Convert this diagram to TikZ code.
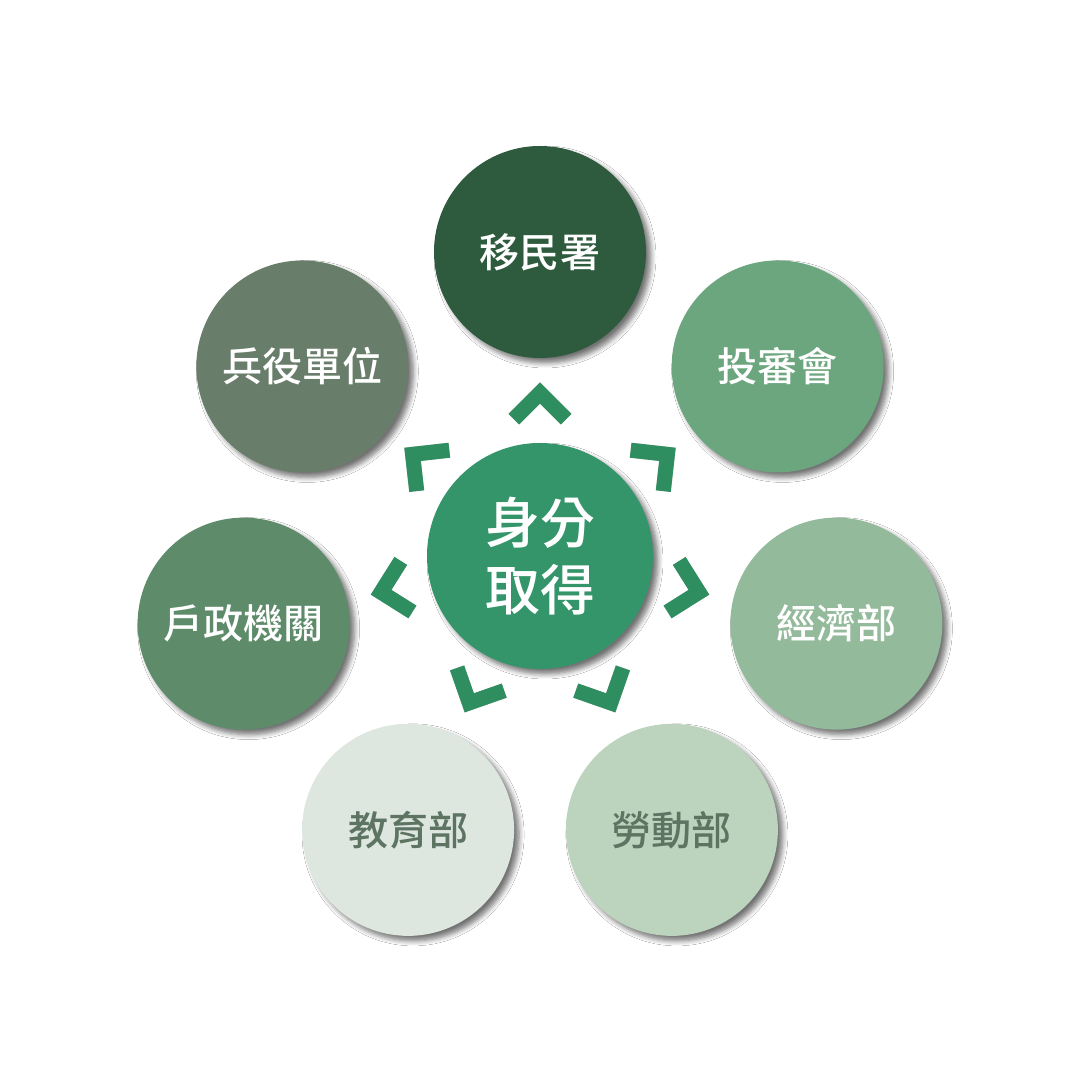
\documentclass[tikz,border=0pt]{standalone}
\usepackage{fontspec}
\setmainfont{Noto Sans CJK TC}
\newfontfamily\cjkmed{Noto Sans CJK TC}[UprightFont={* Medium}]
\usetikzlibrary{shadows.blur}
\definecolor{cA}{HTML}{2E5A3E}
\definecolor{cB}{HTML}{6CA67F}
\definecolor{cC}{HTML}{94BA9C}
\definecolor{cD}{HTML}{BCD4BE}
\definecolor{cE}{HTML}{DEE7DF}
\definecolor{cF}{HTML}{5E8C6B}
\definecolor{cG}{HTML}{697D6B}
\definecolor{centerc}{HTML}{34946A}
\definecolor{chevc}{HTML}{2F8E60}
\definecolor{darktext}{HTML}{5D7462}
\tikzset{
  myshadow/.style={blur shadow={shadow xshift=0.05cm, shadow yshift=-0.05cm, shadow blur steps=6, shadow blur radius=0.05cm, shadow opacity=55}},
  outerc/.style={circle, minimum size=2.12cm, inner sep=0pt, fill=#1, myshadow,
    font=\cjkmed\fontsize{11.4}{13}\selectfont},
  centerbox/.style={circle, minimum size=2.26cm, inner sep=0pt, fill=centerc, myshadow,
    text=white, align=center, font=\cjkmed\fontsize{15.6}{19}\selectfont},
  chevshadow/.style={line width=0.15cm, draw=black, draw opacity=0.25, line join=miter},
  chevline/.style={line width=0.15cm, draw=chevc, line join=miter}
}
\begin{document}
\begin{tikzpicture}
\useasboundingbox[fill=white] (-5.4,-5.24) rectangle (5.4,5.56);
\node[centerbox] (c) at (0,0) {身分\\取得};
\foreach \k/\lab/\col/\tc in {0/移民署/cA/white, 1/投審會/cB/white, 2/經濟部/cC/white, 3/勞動部/cD/darktext, 4/教育部/cE/darktext, 5/戶政機關/cF/white, 6/兵役單位/cG/white}{
  \pgfmathsetmacro{\ang}{90-\k*360/7}
  \node[outerc=\col, text=\tc] (o\k) at (\ang:3.04) {\lab};
  \coordinate (p\k) at (\ang:1.63);
  \draw[chevshadow, shift={(0.04,-0.04)}] ([shift={(\ang+135:0.37)}]p\k) -- (p\k) -- ([shift={(\ang-135:0.37)}]p\k);
  \draw[chevline] ([shift={(\ang+135:0.37)}]p\k) -- (p\k) -- ([shift={(\ang-135:0.37)}]p\k);
}
\end{tikzpicture}
\end{document}
